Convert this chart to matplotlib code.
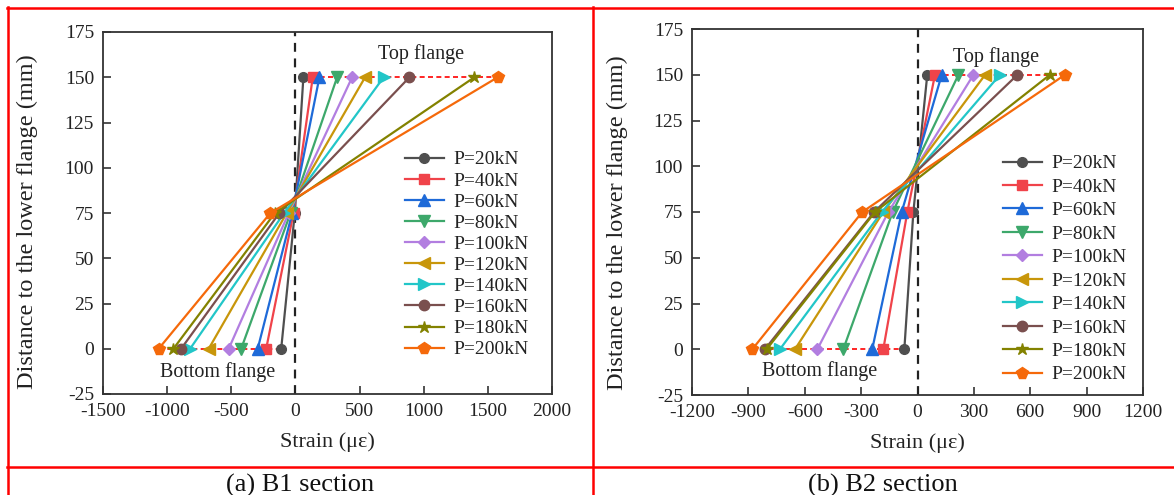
import matplotlib
matplotlib.use("Agg")
import matplotlib.pyplot as plt
from matplotlib.lines import Line2D

plt.rcParams['font.family'] = ['Liberation Serif', 'DejaVu Serif']
plt.rcParams['mathtext.fontset'] = 'stix'
plt.rcParams['axes.unicode_minus'] = False

# ---------------- data ----------------
loads = ["P=20kN", "P=40kN", "P=60kN", "P=80kN", "P=100kN",
         "P=120kN", "P=140kN", "P=160kN", "P=180kN", "P=200kN"]
heights = [0, 75, 150]

# B1 section strains (bottom, middle, top)
b1_bottom = [-111, -228, -294, -423, -520, -676, -821, -891, -951, -1066]
b1_middle = [-5, -15, -25, -38, -52, -68, -88, -125, -160, -195]
b1_top = [62, 135, 187, 325, 442, 543, 688, 889, 1395, 1577]

# B2 section strains (bottom, middle, top)
b2_bottom = [-70, -182, -241, -395, -533, -652, -732, -812, -803, -879]
b2_middle = [-22, -54, -84, -132, -155, -182, -190, -231, -226, -294]
b2_top = [52, 93, 129, 218, 298, 360, 439, 532, 705, 785]

colors = ["#4f4f4f", "#f0434a", "#1e6ad8", "#3da86b", "#b27ee0",
          "#c8960a", "#22c6c8", "#7a4f4e", "#838200", "#f5690a"]
markers = ["o", "s", "^", "v", "D", "<", ">", "o", "*", "p"]
msizes = [7, 7, 8, 8, 6.5, 8, 8, 7.5, 9, 8.5]

W, H = 1174, 495
fig = plt.figure(figsize=(W / 100, H / 100), dpi=100)


def px_axes(x0, y0, x1, y1):
    return fig.add_axes([x0 / W, 1 - y1 / H, (x1 - x0) / W, (y1 - y0) / H])


def draw(ax, bottom, middle, top, xlim, xticks, top_txt, bot_txt,
         leg_anchor, leg_spacing):
    for i in range(len(loads)):
        ax.plot([bottom[i], middle[i], top[i]], heights, color=colors[i],
                marker=markers[i], markersize=msizes[i], linewidth=1.6,
                label=loads[i], zorder=3)
    # red dashed flange lines
    ax.plot([min(top), max(top)], [150, 150], color="#ff0000",
            linestyle=(0, (3, 2)), linewidth=1.2, zorder=2)
    ax.plot([min(bottom), max(bottom)], [0, 0], color="#ff0000",
            linestyle=(0, (3, 2)), linewidth=1.2, zorder=2)
    ax.axvline(0, color="#222222", linestyle=(0, (4, 3)), linewidth=1.6,
               zorder=1)
    ax.set_xlim(*xlim)
    ax.set_ylim(-25, 175)
    ax.set_xticks(xticks)
    ax.set_yticks(range(-25, 176, 25))
    ax.tick_params(direction="in", length=6, width=1.1, labelsize=14,
                   pad=6.5, colors="#222222")
    for s in ax.spines.values():
        s.set_linewidth(1.3)
        s.set_color("#333333")
    ax.set_xlabel("Strain (με)", fontsize=16, color="#222222")
    ax.set_ylabel("Distance to the lower flange (mm)", fontsize=17.5,
                  color="#222222")
    ax.text(top_txt[0], top_txt[1], "Top flange", fontsize=14.5,
            ha="center", va="center", color="#222222")
    ax.text(bot_txt[0], bot_txt[1], "Bottom flange", fontsize=14.5,
            ha="center", va="center", color="#222222")
    leg = ax.legend(loc="center left", bbox_to_anchor=leg_anchor,
                    frameon=False, fontsize=14, borderpad=0,
                    borderaxespad=0, handlelength=2.0, handletextpad=0.5,
                    labelspacing=leg_spacing)
    for t in leg.get_texts():
        t.set_color("#222222")
    return ax


ax1 = px_axes(103, 32, 552, 394)
draw(ax1, b1_bottom, b1_middle, b1_top, (-1500, 2000),
     [-1500, -1000, -500, 0, 500, 1000, 1500, 2000],
     (982, 163), (-608, -13), (0.6726, 0.385), 0.18)
ax1.yaxis.set_label_coords(-0.145, 0.475)
ax1.xaxis.set_label_coords(0.5, -0.105)

ax2 = px_axes(692, 29, 1143, 395)
draw(ax2, b2_bottom, b2_middle, b2_top, (-1200, 1200),
     [-1200, -900, -600, -300, 0, 300, 600, 900, 1200],
     (418, 159.5), (-522, -12), (0.6896, 0.344), 0.30)
ax2.yaxis.set_label_coords(-0.142, 0.47)
ax2.xaxis.set_label_coords(0.5, -0.105)

# red table borders
def hline(y, x0, x1):
    fig.add_artist(Line2D([x0 / W, x1 / W], [1 - y / H, 1 - y / H],
                          color="#ff0000", linewidth=1.8))


def vline(x, y0, y1):
    fig.add_artist(Line2D([x / W, x / W], [1 - y0 / H, 1 - y1 / H],
                          color="#ff0000", linewidth=1.8))


hline(8, 7, W)
hline(467, 7, W)
vline(8, 7, H)
vline(593, 7, H)

fig.text(300 / W, 1 - 485 / H, "(a) B1 section", fontsize=19,
         ha="center", va="center", color="#111111")
fig.text(883 / W, 1 - 485 / H, "(b) B2 section", fontsize=19,
         ha="center", va="center", color="#111111")

fig.savefig("out.png", dpi=100)
